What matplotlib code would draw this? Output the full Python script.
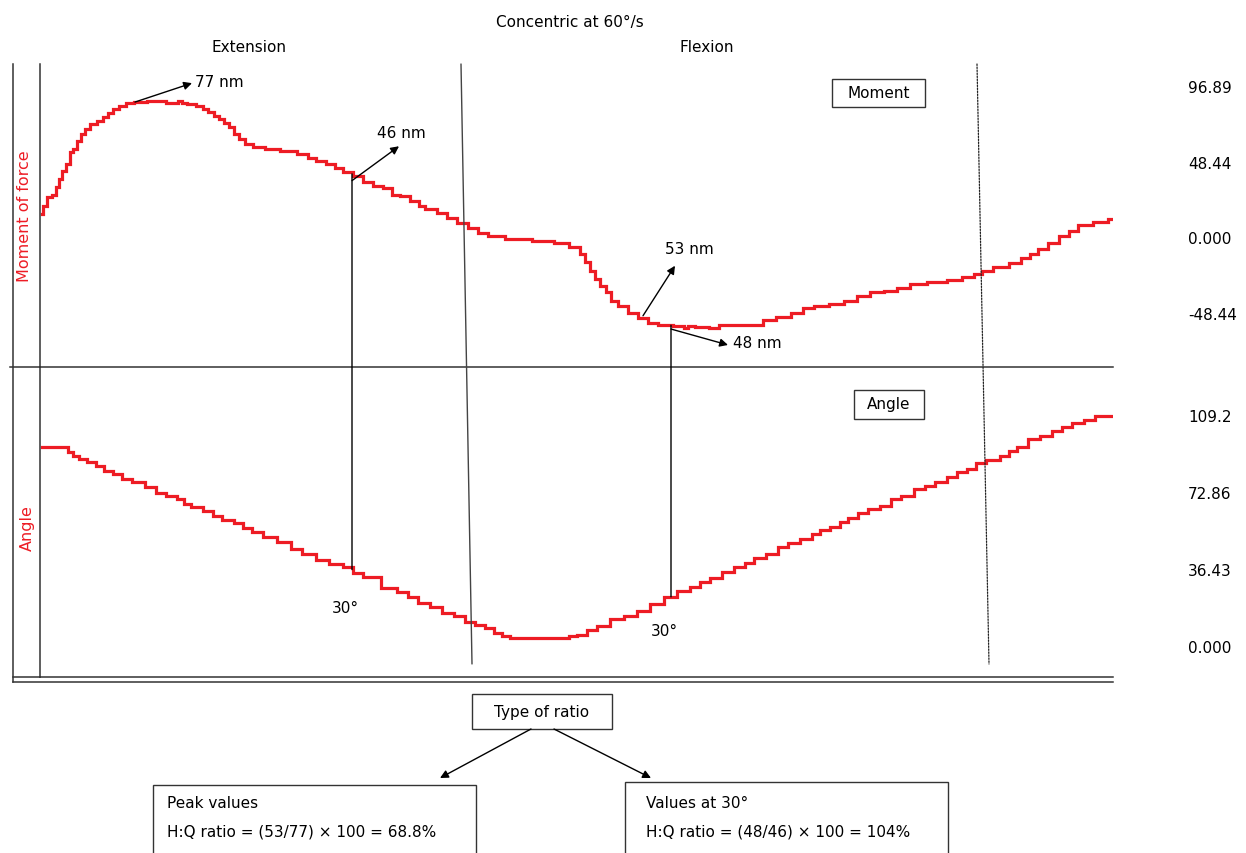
import numpy as np
import matplotlib
matplotlib.use("Agg")
import matplotlib.pyplot as plt
from matplotlib.lines import Line2D
from matplotlib.patches import Rectangle, ConnectionPatch, FancyArrowPatch

# isokinetic trace, concentric at 60 deg/s (time in samples)
moment_time = [2, 5, 10, 15, 18, 21, 24, 28, 31, 35, 38, 43, 46, 53, 60, 65, 70, 76, 81, 90,
               98, 115, 125, 126, 135, 140, 143, 151, 161, 165, 171, 176, 181, 186, 191, 196,
               201, 208, 218, 231, 248, 265, 271, 281, 291, 298, 308, 318, 328, 338, 348, 356,
               363, 377, 380, 390, 403, 410, 423, 433, 443, 453, 477, 507, 520, 537, 542, 547,
               552, 557, 563, 568, 573, 583, 593, 603, 613, 623, 643, 645, 650, 660, 677, 680,
               710, 717, 728, 743, 758, 768, 780, 797, 810, 823, 837, 850, 863, 877, 897, 917,
               927, 940, 943, 963, 975, 987, 993, 1003, 1013, 1025, 1033, 1043, 1062, 1073]
moment = [14.9, 20.2, 25.6, 27.1, 32.0, 37.3, 42.6, 46.9, 54.4, 56.5, 61.8, 66.1, 69.3, 72.5,
          74.6, 76.8, 79.6, 82.1, 84.3, 86.0, 86.4, 87.1, 87.5, 86.0, 86.0, 87.5, 86.0, 85.3,
          84.3, 82.1, 80.4, 77.8, 75.7, 73.0, 70.4, 66.1, 62.9, 59.7, 57.6, 56.5, 55.4, 53.3,
          50.6, 49.0, 46.9, 44.2, 41.6, 39.1, 35.6, 33.0, 31.4, 27.1, 26.2, 23.4, 20.2, 18.1,
          15.6, 12.2, 9.2, 5.8, 2.8, 0.6, -1.1, -2.2, -3.6, -6.4, -10.7, -16.0, -21.4, -26.7,
          -31.0, -35.2, -40.6, -43.8, -48.5, -51.9, -54.9, -56.1, -56.6, -58.3, -56.6, -57.6,
          -58.1, -56.1, -56.1, -56.1, -52.8, -51.2, -48.5, -45.5, -44.2, -42.5, -40.6, -37.8,
          -35.2, -34.2, -32.7, -29.9, -28.8, -27.1, -25.6, -23.5, -21.4, -19.2, -16.5, -13.4,
          -10.7, -7.5, -3.6, 0.6, 4.2, 7.9, 10.0, 11.7]

angle_time = [2, 26, 30, 35, 43, 51, 60, 68, 78, 86, 98, 111, 120, 131, 143, 145, 156, 170, 175,
              188, 200, 205, 218, 228, 245, 256, 268, 283, 295, 310, 315, 331, 350, 363, 373,
              382, 397, 407, 420, 430, 440, 450, 457, 467, 473, 527, 530, 543, 550, 563, 577,
              590, 603, 617, 630, 643, 657, 663, 677, 687, 700, 710, 718, 733, 743, 753, 767,
              777, 783, 797, 802, 813, 823, 833, 847, 855, 867, 880, 890, 900, 913, 920, 933,
              938, 953, 967, 970, 983, 993, 1007, 1017, 1027, 1037, 1050, 1060, 1073]
angle = [94.0, 94.0, 91.9, 89.7, 88.4, 86.9, 85.0, 82.9, 81.3, 79.0, 77.4, 75.0, 72.3, 71.1,
         69.5, 67.1, 65.6, 64.0, 61.3, 59.7, 58.2, 55.7, 53.8, 51.4, 49.0, 45.9, 43.5, 40.8,
         38.8, 37.2, 34.5, 32.5, 27.3, 25.4, 23.0, 20.3, 18.3, 15.6, 14.0, 11.5, 9.9, 8.4, 6.1,
         4.9, 3.6, 3.6, 4.9, 5.2, 7.7, 9.3, 12.8, 14.0, 16.7, 19.9, 23.0, 26.1, 27.8, 30.1,
         32.0, 34.8, 37.2, 39.1, 41.6, 43.5, 46.7, 48.6, 50.6, 53.0, 54.8, 56.1, 58.5, 60.5,
         62.7, 64.8, 66.3, 69.5, 71.1, 74.2, 75.8, 77.4, 80.0, 82.1, 83.7, 86.4, 87.9, 90.0,
         92.3, 94.2, 97.9, 99.4, 101.5, 103.7, 105.3, 106.9, 108.9, 108.9]

moment_ticks = [96.89, 48.44, 0.0, -48.44]
moment_tick_labels = ["96.89", "48.44", "0.000", "-48.44"]
angle_ticks = [109.2, 72.86, 36.43, 0.0]
angle_tick_labels = ["109.2", "72.86", "36.43", "0.000"]

# phase boundaries (top, bottom) and the two 30 degree sample points
ext_flex_boundary = [421, 432]
cycle_end_boundary = [937, 949]
ext_30_time = 312
flex_30_time = 631

# peak / 30 degree moment callouts: (tail, head, label position, text)
moment_notes = [
    ((95, 86.6), (152, 98.7), (155, 99.5), "77 nm", "left"),
    ((312, 36.3), (359, 58.3), (361, 67.4), "46 nm", "center"),
    ((603, -50.2), (635, -18.2), (649, -7.0), "53 nm", "center"),
    ((631, -58.7), (688, -68.9), (693, -67.2), "48 nm", "left"),
]

RED = "#ed1c24"
INK = "#333333"
FONT = "DejaVu Sans"
plt.rcParams["font.family"] = FONT

W, H = 1246, 854
fig = plt.figure(figsize=(W / 100, H / 100), dpi=100)


def fx(px):
    return px / W


def fy(py):
    return 1 - py / H


ax_m = fig.add_axes([fx(40), fy(368), (1113 - 40) / W, (368 - 65) / H])
ax_a = fig.add_axes([fx(40), fy(678), (1113 - 40) / W, (678 - 368) / H])

ax_m.plot(moment_time, moment, color=RED, lw=2.3, drawstyle="steps-mid", solid_joinstyle="miter")
ax_a.plot(angle_time, angle, color=RED, lw=2.3, drawstyle="steps-mid", solid_joinstyle="miter")

ax_m.set_ylim(-83.0, 110.95)
ax_a.set_ylim(-14.66, 131.9)
for ax, ticks, labels in [(ax_m, moment_ticks, moment_tick_labels),
                          (ax_a, angle_ticks, angle_tick_labels)]:
    ax.set_xlim(0, 1073)
    ax.set_xticks([])
    ax.yaxis.tick_right()
    ax.set_yticks(ticks, labels)
    ax.tick_params(axis="y", length=0, pad=54, labelsize=11, labelcolor="black")
    for side in ["top", "right"]:
        ax.spines[side].set_visible(False)
    for side in ["left", "bottom"]:
        ax.spines[side].set_color(INK)
        ax.spines[side].set_linewidth(1.1)
    ax.patch.set_alpha(0)

# frame lines around the two panels
for (x0, y0, x1, y1) in [(12.5, 65, 12.5, 682.5), (10, 368, 40, 368),
                         (12.5, 678, 40, 678), (12.5, 682.5, 1113, 682.5)]:
    fig.add_artist(Line2D([fx(x0), fx(x1)], [fy(y0), fy(y1)], color=INK, lw=1.1))

# phase boundaries
ax_a_bottom_mark = -8.5
fig.add_artist(ConnectionPatch((ext_flex_boundary[0], 110.95), (ext_flex_boundary[1], ax_a_bottom_mark),
                               coordsA=ax_m.transData, coordsB=ax_a.transData,
                               color="#444444", lw=1.0))
fig.add_artist(ConnectionPatch((cycle_end_boundary[0], 110.95), (cycle_end_boundary[1], ax_a_bottom_mark),
                               coordsA=ax_m.transData, coordsB=ax_a.transData,
                               color="#222222", lw=0.9, linestyle=(0, (1.2, 1.2))))

# 30 degree markers joining moment and angle traces
for t in [ext_30_time, flex_30_time]:
    m_val = np.interp(t, moment_time, moment)
    a_val = np.interp(t, angle_time, angle)
    fig.add_artist(ConnectionPatch((t, m_val), (t, a_val),
                                   coordsA=ax_m.transData, coordsB=ax_a.transData,
                                   color="black", lw=1.0))

for tail, head, pos, txt, ha in moment_notes:
    ax_m.annotate("", xy=head, xytext=tail,
                  arrowprops=dict(arrowstyle="-|>", color="black", lw=1.0,
                                  mutation_scale=12, shrinkA=0, shrinkB=0))
    ax_m.text(pos[0], pos[1], txt, ha=ha, va="center", fontsize=11)

ax_a.text(305, 18.0, "30°", ha="center", va="center", fontsize=11)
ax_a.text(624, 7.1, "30°", ha="center", va="center", fontsize=11)

# headings
fig.text(fx(570), fy(22), "Concentric at 60°/s", ha="center", va="center", fontsize=11)
fig.text(fx(249), fy(48), "Extension", ha="center", va="center", fontsize=11)
fig.text(fx(707), fy(48), "Flexion", ha="center", va="center", fontsize=11)
fig.text(fx(25), fy(216), "Moment of force", ha="center", va="center", rotation=90,
         fontsize=11.5, color=RED)
fig.text(fx(27), fy(528), "Angle", ha="center", va="center", rotation=90,
         fontsize=11.5, color=RED)


def box(x0, y0, x1, y1):
    fig.add_artist(Rectangle((fx(x0), fy(y1)), (x1 - x0) / W, (y1 - y0) / H,
                             transform=fig.transFigure, fill=False, edgecolor=INK, lw=1.0))


box(832, 80, 925, 108)
fig.text(fx(878.5), fy(94), "Moment", ha="center", va="center", fontsize=11)
box(854, 391, 924, 420)
fig.text(fx(889), fy(405), "Angle", ha="center", va="center", fontsize=11)

# ratio summary
box(472, 695, 612, 730)
fig.text(fx(542), fy(712), "Type of ratio", ha="center", va="center", fontsize=11)
for (x0, y0, x1, y1) in [(531, 730, 440, 779), (554, 730, 651, 779)]:
    fig.add_artist(FancyArrowPatch((fx(x0), fy(y0)), (fx(x1), fy(y1)), transform=fig.transFigure,
                                   arrowstyle="-|>", mutation_scale=12, color="black", lw=1.0,
                                   shrinkA=0, shrinkB=0))
box(153, 786, 476, 870)
box(625, 783, 948, 870)
fig.text(fx(167), fy(804), "Peak values", ha="left", va="center", fontsize=11)
fig.text(fx(167), fy(832), "H:Q ratio = (53/77) × 100 = 68.8%", ha="left", va="center", fontsize=11)
fig.text(fx(646), fy(804), "Values at 30°", ha="left", va="center", fontsize=11)
fig.text(fx(646), fy(832), "H:Q ratio = (48/46) × 100 = 104%", ha="left", va="center", fontsize=11)

fig.savefig("out.png", dpi=100)
